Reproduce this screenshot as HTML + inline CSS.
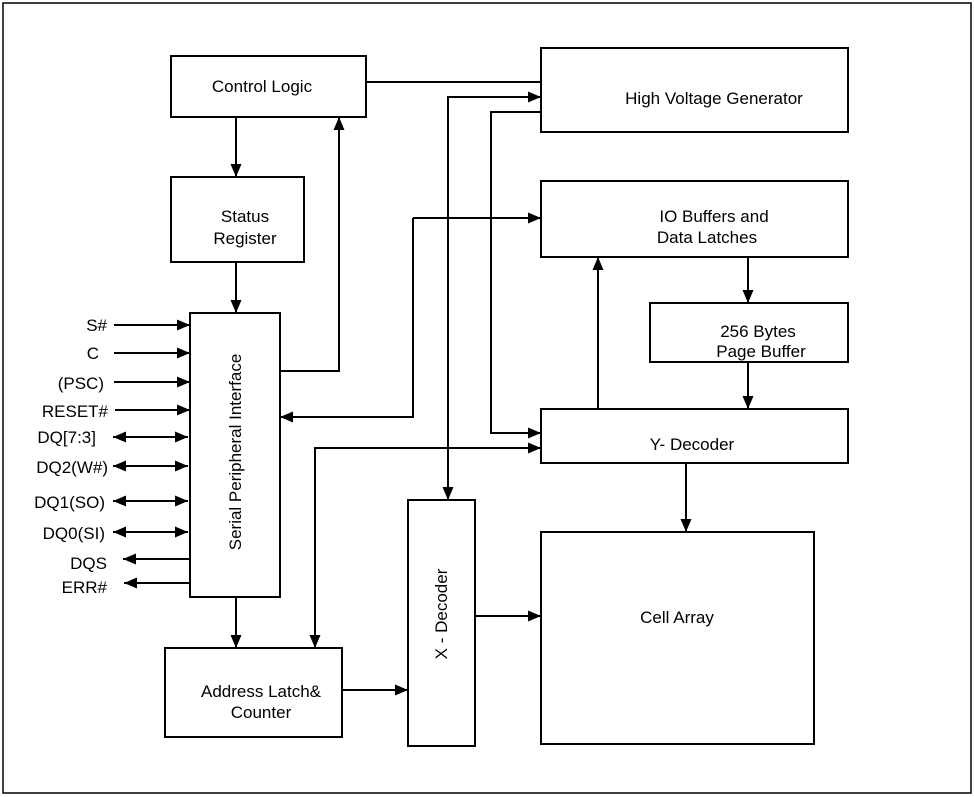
<!DOCTYPE html>
<html><head><style>
html,body{margin:0;padding:0;background:#fff;}
svg{display:block;}
text{font-family:"Liberation Sans",Arial,sans-serif;font-size:17px;fill:#000;}
</style></head><body>
<svg width="974" height="797" viewBox="0 0 974 797" xmlns="http://www.w3.org/2000/svg">
<defs>
<marker id="a" markerWidth="13" markerHeight="11" refX="13" refY="5.5" orient="auto" markerUnits="userSpaceOnUse">
<path d="M0,0 L13,5.5 L0,11 z" fill="#000"/></marker>
<marker id="b" markerWidth="13" markerHeight="11" refX="0" refY="5.5" orient="auto" markerUnits="userSpaceOnUse">
<path d="M13,0 L0,5.5 L13,11 z" fill="#000"/></marker>
</defs>
<rect x="3" y="3" width="968" height="790" fill="none" stroke="#000" stroke-width="1.5"/>
<g fill="none" stroke="#000" stroke-width="2">
<rect x="171" y="56" width="195" height="61"/>
<rect x="171" y="177" width="133" height="85"/>
<rect x="190" y="313" width="90" height="284"/>
<rect x="165" y="648" width="177" height="89"/>
<rect x="408" y="500" width="67" height="246"/>
<rect x="541" y="532" width="273" height="212"/>
<rect x="541" y="48" width="307" height="84"/>
<rect x="541" y="181" width="307" height="76"/>
<rect x="650" y="303" width="198" height="59"/>
<rect x="541" y="409" width="307" height="54"/>
</g>
<g fill="none" stroke="#000" stroke-width="2">
<line x1="236" y1="117" x2="236" y2="177" marker-end="url(#a)"/>
<line x1="236" y1="262" x2="236" y2="313" marker-end="url(#a)"/>
<line x1="236" y1="597" x2="236" y2="648" marker-end="url(#a)"/>
<polyline points="280,371 339,371 339,117" marker-end="url(#a)"/>
<line x1="366" y1="82" x2="541" y2="82"/>
<polyline points="448,500 448,97 541,97" marker-end="url(#a)"/>
<line x1="448" y1="120" x2="448" y2="500" marker-end="url(#a)"/>
<polyline points="541,112 491,112 491,433 541,433" marker-end="url(#a)"/>
<polyline points="413,218 413,417 280,417" marker-end="url(#a)"/>
<line x1="413" y1="218" x2="541" y2="218" marker-end="url(#a)"/>
<polyline points="315,645 315,448 541,448" marker-end="url(#a)"/>
<line x1="315" y1="460" x2="315" y2="648" marker-end="url(#a)"/>
<line x1="598" y1="409" x2="598" y2="257" marker-end="url(#a)"/>
<line x1="748" y1="257" x2="748" y2="303" marker-end="url(#a)"/>
<line x1="748" y1="362" x2="748" y2="409" marker-end="url(#a)"/>
<line x1="686" y1="463" x2="686" y2="532" marker-end="url(#a)"/>
<line x1="342" y1="690" x2="408" y2="690" marker-end="url(#a)"/>
<line x1="475" y1="616" x2="541" y2="616" marker-end="url(#a)"/>
<line x1="114" y1="325" x2="190" y2="325" marker-end="url(#a)"/>
<line x1="114" y1="353" x2="190" y2="353" marker-end="url(#a)"/>
<line x1="114" y1="382" x2="190" y2="382" marker-end="url(#a)"/>
<line x1="115" y1="410" x2="190" y2="410" marker-end="url(#a)"/>
<line x1="113" y1="437" x2="188" y2="437" marker-start="url(#b)" marker-end="url(#a)"/>
<line x1="113" y1="466" x2="188" y2="466" marker-start="url(#b)" marker-end="url(#a)"/>
<line x1="113" y1="501" x2="188" y2="501" marker-start="url(#b)" marker-end="url(#a)"/>
<line x1="113" y1="532" x2="188" y2="532" marker-start="url(#b)" marker-end="url(#a)"/>
<line x1="190" y1="559" x2="123" y2="559" marker-end="url(#a)"/>
<line x1="190" y1="583" x2="124" y2="583" marker-end="url(#a)"/>
</g>
<g text-anchor="end">
<text x="107" y="331">S#</text>
<text x="99" y="359">C</text>
<text x="104" y="389">(PSC)</text>
<text x="108" y="417">RESET#</text>
<text x="96" y="443">DQ[7:3]</text>
<text x="108" y="473">DQ2(W#)</text>
<text x="105" y="508">DQ1(SO)</text>
<text x="105" y="539">DQ0(SI)</text>
<text x="107" y="569">DQS</text>
<text x="107" y="593">ERR#</text>
</g>
<g text-anchor="middle">
<text x="262" y="92">Control Logic</text>
<text x="245" y="222">Status</text>
<text x="245" y="244">Register</text>
<text x="261" y="697">Address Latch&amp;</text>
<text x="261" y="718">Counter</text>
<text x="714" y="104">High Voltage Generator</text>
<text x="714" y="222">IO Buffers and</text>
<text x="707" y="243">Data Latches</text>
<text x="758" y="337">256 Bytes</text>
<text x="761" y="357">Page Buffer</text>
<text x="692" y="450">Y- Decoder</text>
<text x="677" y="623">Cell Array</text>
<text transform="translate(241,452) rotate(-90)" x="0" y="0">Serial Peripheral Interface</text>
<text transform="translate(447,614) rotate(-90)" x="0" y="0">X - Decoder</text>
</g>
</svg>
</body></html>
